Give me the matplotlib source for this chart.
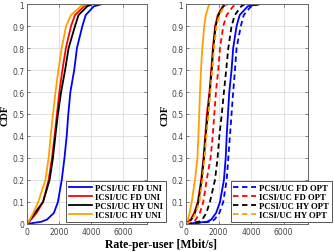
import matplotlib
matplotlib.use("Agg")
import matplotlib.pyplot as plt

# CDF levels shared by every curve
cdf_levels = [0, 0.01, 0.02, 0.05, 0.1, 0.2, 0.3, 0.4, 0.5, 0.6, 0.7, 0.8, 0.9, 0.95, 0.99, 1.0]

# left panel: uniform power (rate in Mbit/s at each CDF level)
pcsi_fd_uni = [0, 900, 1250, 1680, 1930, 2170, 2340, 2480, 2580, 2710, 2950, 3120, 3460, 3670, 4180, 4700]
icsi_fd_uni = [0, 120, 250, 600, 1000, 1350, 1560, 1720, 1870, 2020, 2210, 2430, 2750, 3000, 3570, 3900]
pcsi_hy_uni = [0, 100, 200, 490, 1000, 1410, 1620, 1770, 1930, 2130, 2380, 2600, 3000, 3220, 3770, 4100]
icsi_hy_uni = [0, 80, 170, 390, 700, 1150, 1350, 1480, 1620, 1780, 1960, 2170, 2440, 2750, 3360, 3750]

# right panel: solid reference curves (no legend entry)
orange_solid = [0, 60, 120, 220, 350, 550, 700, 760, 810, 860, 920, 1000, 1120, 1220, 1380, 1470]
red_solid = [0, 150, 280, 500, 720, 930, 1070, 1180, 1280, 1440, 1550, 1650, 1790, 1950, 2250, 2450]
black_solid = [0, 200, 330, 550, 760, 960, 1100, 1210, 1340, 1470, 1580, 1680, 1820, 2000, 2300, 2500]
blue_solid = [0, 1300, 1550, 1850, 2090, 2330, 2440, 2500, 2580, 2660, 2800, 2900, 3110, 3300, 3800, 4540]

# right panel: optimized power (dashed)
pcsi_fd_opt = [0, 1500, 1750, 2050, 2290, 2500, 2600, 2700, 2800, 2900, 3010, 3110, 3370, 3550, 4000, 4540]
icsi_fd_opt = [0, 450, 600, 850, 1060, 1270, 1510, 1640, 1740, 1840, 1980, 2090, 2290, 2500, 2900, 3190]
pcsi_hy_opt = [0, 800, 1000, 1250, 1470, 1780, 1940, 2050, 2200, 2330, 2470, 2600, 2800, 3000, 3400, 3620]
icsi_hy_opt = [0, 250, 380, 600, 820, 1010, 1140, 1250, 1380, 1500, 1610, 1720, 1870, 2050, 2350, 2600]

x_ticks = [0, 2000, 4000, 6000]
y_ticks = [0, 0.1, 0.2, 0.3, 0.4, 0.5, 0.6, 0.7, 0.8, 0.9, 1.0]
y_tick_labels = ["0", "0.1", "0.2", "0.3", "0.4", "0.5", "0.6", "0.7", "0.8", "0.9", "1"]

BLUE = "#0000ff"
RED = "#ff0000"
BLACK = "#000000"
ORANGE = "#ffa000"
SERIF = "Liberation Serif"


def style_axes(ax):
    ax.set_xlim(0, 7500)
    ax.set_ylim(0, 1)
    ax.set_xticks(x_ticks)
    ax.set_xticklabels([str(t) for t in x_ticks])
    ax.set_yticks(y_ticks)
    ax.set_yticklabels(y_tick_labels)
    ax.grid(True, color="#dcdcdc", linewidth=0.6)
    ax.set_axisbelow(True)
    ax.tick_params(direction="in", length=2.5, width=0.5, labelsize=5.5,
                   colors="#555555", labelcolor="#444444", pad=2,
                   top=True, right=True)
    for s in ax.spines.values():
        s.set_color("#666666")
        s.set_linewidth(0.7)


fig = plt.figure(figsize=(3.34, 2.53), dpi=100)
ax1 = fig.add_axes([0.081, 0.111, 0.359, 0.869])
ax2 = fig.add_axes([0.557, 0.111, 0.365, 0.869])

lw = 1.3
ax1.plot(pcsi_fd_uni, cdf_levels, color=BLUE, lw=lw, label="PCSI/UC FD UNI")
ax1.plot(icsi_fd_uni, cdf_levels, color=RED, lw=lw, label="ICSI/UC FD UNI")
ax1.plot(pcsi_hy_uni, cdf_levels, color=BLACK, lw=lw, label="PCSI/UC HY UNI")
ax1.plot(icsi_hy_uni, cdf_levels, color=ORANGE, lw=lw, label="ICSI/UC HY UNI")

ax2.plot(orange_solid, cdf_levels, color=ORANGE, lw=lw)
ax2.plot(red_solid, cdf_levels, color=RED, lw=lw)
ax2.plot(black_solid, cdf_levels, color=BLACK, lw=lw)
ax2.plot(blue_solid, cdf_levels, color=BLUE, lw=lw)
dash = (3, 2)
ax2.plot(pcsi_fd_opt, cdf_levels, color=BLUE, lw=lw, ls=(0, dash), label="PCSI/UC FD OPT")
ax2.plot(icsi_fd_opt, cdf_levels, color=RED, lw=lw, ls=(0, dash), label="ICSI/UC FD OPT")
ax2.plot(pcsi_hy_opt, cdf_levels, color=BLACK, lw=lw, ls=(0, dash), label="PCSI/UC HY OPT")
ax2.plot(icsi_hy_opt, cdf_levels, color=ORANGE, lw=lw, ls=(0, dash), label="ICSI/UC HY OPT")

for ax in (ax1, ax2):
    style_axes(ax)

leg_kw = dict(loc="lower right", bbox_transform=fig.transFigure,
              prop={"family": SERIF, "weight": "bold", "size": 6.3},
              handlelength=2.6, handletextpad=0.4, labelspacing=0.12,
              borderpad=0.3, borderaxespad=0, fancybox=False,
              framealpha=1, edgecolor="#555555")
lg1 = ax1.legend(bbox_to_anchor=(0.497, 0.119), **leg_kw)
lg2 = ax2.legend(bbox_to_anchor=(0.994, 0.119), **leg_kw)
for lg in (lg1, lg2):
    lg.get_frame().set_linewidth(0.7)
    lg.set_zorder(10)

fig.text(0.016, 0.545, "CDF", rotation=90, ha="center", va="center",
         family=SERIF, weight="bold", fontsize=7.5)
fig.text(0.493, 0.545, "CDF", rotation=90, ha="center", va="center",
         family=SERIF, weight="bold", fontsize=7.5)
fig.text(0.482, 0.032, "Rate-per-user [Mbit/s]", ha="center", va="center",
         family=SERIF, weight="bold", fontsize=8.5)

fig.savefig("out.png", dpi=100)
